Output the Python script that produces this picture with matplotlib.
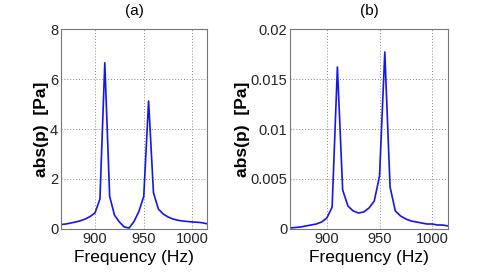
import matplotlib
matplotlib.use("Agg")
import matplotlib.pyplot as plt
from matplotlib.ticker import FixedLocator, FixedFormatter

plt.rcParams["font.family"] = ["Liberation Sans", "DejaVu Sans"]

# frequency grid (Hz), 5 Hz spacing
freq_hz = [865, 870, 875, 880, 885, 890, 895, 900, 905, 910, 915, 920, 925, 930,
           935, 940, 945, 950, 955, 960, 965, 970, 975, 980, 985, 990, 995, 1000,
           1005, 1010, 1015]

# panel (a) pressure magnitude [Pa]
pressure_a = [0.18, 0.2, 0.24, 0.28, 0.33, 0.4, 0.5, 0.65, 1.2, 6.65, 1.3, 0.55,
              0.28, 0.08, 0.04, 0.3, 0.7, 1.3, 5.12, 1.45, 0.8, 0.6, 0.48, 0.4,
              0.35, 0.32, 0.3, 0.28, 0.27, 0.25, 0.21]

# panel (b) pressure magnitude [Pa]
pressure_b = [0.0001, 0.00015, 0.0002, 0.0003, 0.0004, 0.0005, 0.0007, 0.0011,
              0.0022, 0.0162, 0.0039, 0.0023, 0.0018, 0.0016, 0.0017, 0.0021,
              0.0028, 0.0053, 0.0177, 0.0042, 0.0018, 0.0013, 0.001, 0.0008,
              0.0007, 0.0006, 0.0005, 0.0005, 0.0004, 0.0004, 0.0003]

xticks = [900, 950, 1000]
yticks_a = [0, 2, 4, 6, 8]
yticks_b = [0, 0.005, 0.01, 0.015, 0.02]
yticklabels_b = ["0", "0.005", "0.01", "0.015", "0.02"]

W, H = 491, 273
fig = plt.figure(figsize=(W / 100, H / 100), dpi=100)

ax_a = fig.add_axes([61 / W, 1 - 229 / H, 146 / W, 200 / H])
ax_b = fig.add_axes([290 / W, 1 - 229 / H, 158 / W, 200 / H])


def _style(ax, yticks, title, ylabelpad):
    ax.set_xlim(865, 1015)
    ax.set_ylim(yticks[0], yticks[-1])
    ax.xaxis.set_major_locator(FixedLocator(xticks))
    ax.yaxis.set_major_locator(FixedLocator(yticks))
    ax.grid(True, color="#888888", linestyle=(0, (1, 2)), linewidth=0.7)
    ax.tick_params(direction="in", length=0, labelsize=10.5, pad=2, colors="#222222")
    for s in ax.spines.values():
        s.set_color("#777777")
        s.set_linewidth(0.8)
    ax.set_xlabel("Frequency (Hz)", fontsize=12.5, labelpad=3)
    ax.set_ylabel("abs(p)  [Pa]", fontsize=12.5, fontweight="bold", labelpad=ylabelpad)
    ax.set_title(title, fontsize=11, pad=10)


ax_a.plot(freq_hz, pressure_a, color="#1515ee", linewidth=1.2)
_style(ax_a, yticks_a, "(a)", 1)

ax_b.plot(freq_hz, pressure_b, color="#1515ee", linewidth=1.2)
_style(ax_b, yticks_b, "(b)", 0)
ax_b.yaxis.set_major_formatter(FixedFormatter(yticklabels_b))

fig.savefig("out.png", dpi=100)
